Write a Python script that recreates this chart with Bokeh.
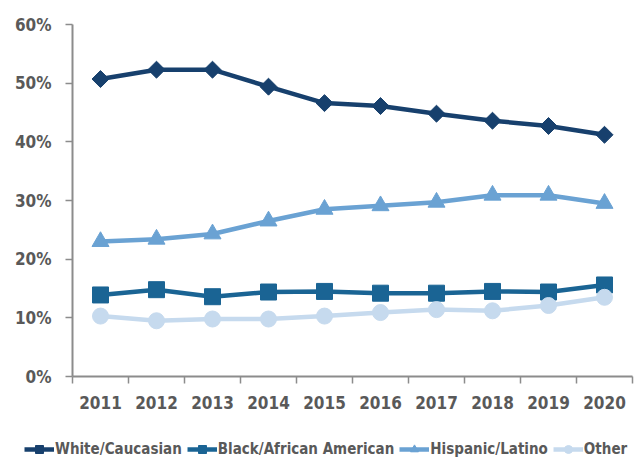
from bokeh.plotting import figure
from bokeh.models import Range1d, FixedTicker, Legend, LegendItem
from bokeh.layouts import column
from bokeh.embed import file_html
from bokeh.resources import INLINE
import math

years = [2011, 2012, 2013, 2014, 2015, 2016, 2017, 2018, 2019, 2020]
year_labels = ["2011", "2012", "2013", "2014", "2015", "2016", "2017", "2018", "2019", "2020"]
white = [50.7, 52.3, 52.3, 49.4, 46.6, 46.1, 44.8, 43.6, 42.7, 41.2]
black = [13.9, 14.8, 13.6, 14.4, 14.5, 14.2, 14.2, 14.5, 14.4, 15.6]
hispanic = [23.0, 23.4, 24.3, 26.5, 28.5, 29.1, 29.7, 30.9, 30.9, 29.5]
other = [10.3, 9.5, 9.8, 9.8, 10.3, 10.9, 11.4, 11.2, 12.1, 13.5]
y_ticks = [0, 10, 20, 30, 40, 50, 60]
y_tick_labels = ["0%", "10%", "20%", "30%", "40%", "50%", "60%"]
series_names = ["White/Caucasian", "Black/African American", "Hispanic/Latino", "Other"]

FONT = "DejaVu Sans Condensed"
TXT = "#595959"
AX = "#8c8c8c"

p = figure(width=641, height=432, output_backend="svg", toolbar_location=None,
           x_range=Range1d(2010.5, 2020.5), y_range=Range1d(0, 60),
           min_border_left=72, min_border_right=9, min_border_top=24, min_border_bottom=56)
p.outline_line_color = None
p.xgrid.grid_line_color = None
p.ygrid.grid_line_color = None

series = [
    (white, "#17406D", "square", 12, math.pi / 4),
    (black, "#1A6494", "square", 16, 0),
    (hispanic, "#6AA2D3", "triangle", 17, 0),
    (other, "#C6DAEE", "circle", 16, 0),
]

# legend strip figure (no axes)
lg = figure(width=641, height=30, output_backend="svg", toolbar_location=None,
            x_range=Range1d(0, 1), y_range=Range1d(0, 1),
            x_axis_location=None, y_axis_location=None,
            min_border_left=0, min_border_right=0, min_border_top=0, min_border_bottom=0)
lg.outline_line_color = None
lg.xgrid.grid_line_color = None
lg.ygrid.grid_line_color = None

items = []
for (vals, col, mk, sz, ang), name in zip(series, series_names):
    p.line(years, vals, line_color=col, line_width=4.5)
    p.scatter(years, vals, marker=mk, size=sz, angle=ang, fill_color=col, line_color=col)
    lr = lg.line(years, vals, line_color=col, line_width=4.5)
    sr = lg.scatter(years, vals, marker=mk, size=sz, angle=ang, fill_color=col, line_color=col)
    items.append(LegendItem(label=name, renderers=[lr, sr]))

# y axis
ya = p.yaxis[0]
ya.ticker = FixedTicker(ticks=y_ticks)
ya.major_label_overrides = {t: l for t, l in zip(y_ticks, y_tick_labels)}
ya.major_tick_out = 7
ya.major_tick_in = 0
ya.minor_tick_out = 0
ya.minor_tick_in = 0
ya.axis_line_color = AX
ya.axis_line_width = 2
ya.major_tick_line_color = AX
ya.major_tick_line_width = 1.5
ya.major_label_standoff = 14
ya.major_label_text_font = FONT
ya.major_label_text_font_size = "17px"
ya.major_label_text_font_style = "bold"
ya.major_label_text_color = TXT

# x axis
xa = p.xaxis[0]
xa.ticker = FixedTicker(ticks=years, minor_ticks=[y - 0.5 for y in years] + [years[-1] + 0.5])
xa.major_label_overrides = {t: l for t, l in zip(years, year_labels)}
xa.major_tick_out = 0
xa.major_tick_in = 0
xa.minor_tick_out = 7
xa.minor_tick_in = 0
xa.minor_tick_line_color = AX
xa.minor_tick_line_width = 1.5
xa.axis_line_color = AX
xa.axis_line_width = 2
xa.major_label_standoff = 12
xa.major_label_text_font = FONT
xa.major_label_text_font_size = "17px"
xa.major_label_text_font_style = "bold"
xa.major_label_text_color = TXT

legend = Legend(items=items, orientation="horizontal", location=(24, 3),
                label_text_font=FONT, label_text_font_size="15px",
                label_text_font_style="bold", label_text_color=TXT,
                glyph_width=30, glyph_height=20, label_standoff=1, spacing=5,
                padding=0, margin=0, border_line_alpha=0, background_fill_alpha=0)
lg.add_layout(legend, "center")

if "frame_align" in lg.properties():
    p.frame_align = False
    lg.frame_align = False
    html = file_html(column(p, lg, spacing=0), INLINE)
else:
    html = file_html([p, lg], INLINE)
open("out.html", "w").write(html)
